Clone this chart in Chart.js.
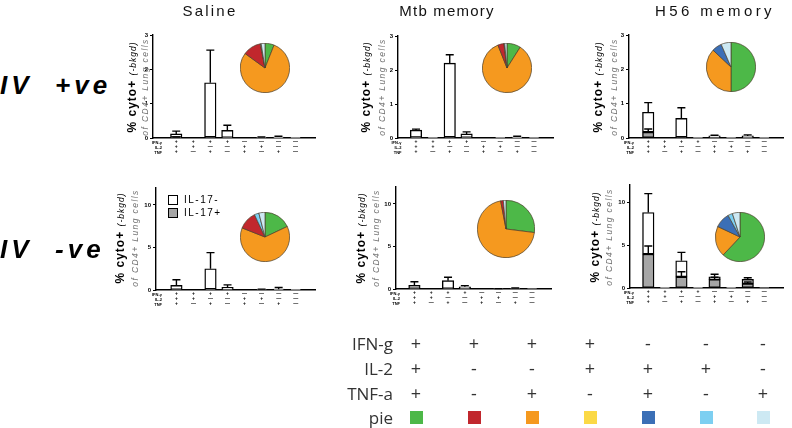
<!DOCTYPE html>
<html><head><meta charset="utf-8">
<script src="https://cdn.jsdelivr.net/npm/chart.js@4.4.0/dist/chart.umd.min.js"></script>
<style>
body{margin:0;width:792px;height:428px;position:relative;background:#fff;overflow:hidden;font-family:Arial,"Liberation Sans",sans-serif}
.abs{position:absolute;white-space:nowrap}
canvas{position:absolute}
.ct{font-size:15px;color:#111;transform:translateX(-50%)}
.rl{font-size:26px;font-weight:bold;font-style:italic;letter-spacing:4px;color:#000}
.yt{transform:translate(-50%,-50%) rotate(-90deg);line-height:1}
.tr{font-size:4px;font-weight:bold;color:#000;text-align:right;line-height:5px}
.tl{font-family:"Open Sans",Arial,sans-serif;font-size:17px;color:#333;text-align:right;transform:translateY(-50%)}
.tm{font-family:"Open Sans",Arial,sans-serif;font-size:18px;color:#333;transform:translate(-50%,-50%)}
.sq{width:13px;height:13px}
</style></head><body>
<script>
// ---------- DATA ----------
const categories = ['+++','++-','+-+','+--','-++','-+-','--+','---'];
const tickIFN = ['+','+','+','+','—','—','—','—'];
const tickIL2 = ['+','+','—','—','+','+','—','—'];
const tickTNF = ['+','—','+','—','+','—','+','—'];
const seriesNames = ['IL-17+','IL-17-'];
const columnTitles = ['Saline','Mtb memory','H56 memory'];
const rowTitles = ['IV&nbsp;&nbsp;+ve','IV&nbsp;&nbsp;-ve'];
const yTicksTop = [0,1,2,3];
const yTicksBottom = [0,5,10];

const salineIVposNeg    = [0.10, 0, 1.58, 0.21, 0, 0.01, 0.02, 0.01];
const salineIVposPos    = [0.02, 0, 0.03, 0.01, 0, 0.01, 0.01, 0];
const salineIVposNegSem = [0.08, 0, 0.95, 0.15, 0, 0.01, 0.02, 0];
const salineIVposPosSem = [0.01, 0, 0, 0, 0, 0, 0, 0];

const mtbIVposNeg    = [0.21, 0.01, 2.17, 0.11, 0, 0.01, 0.02, 0.01];
const mtbIVposPos    = [0.02, 0, 0.03, 0.01, 0, 0, 0.01, 0];
const mtbIVposNegSem = [0.03, 0, 0.25, 0.06, 0, 0, 0.02, 0];
const mtbIVposPosSem = [0, 0, 0, 0, 0, 0, 0, 0];

const h56IVposNeg    = [0.58, 0, 0.54, 0.01, 0.04, 0.01, 0.05, 0.01];
const h56IVposPos    = [0.17, 0, 0.03, 0, 0.02, 0, 0.01, 0];
const h56IVposNegSem = [0.28, 0, 0.31, 0, 0.02, 0, 0.03, 0];
const h56IVposPosSem = [0.09, 0, 0.01, 0, 0, 0, 0, 0];

const salineIVnegNeg    = [0.50, 0, 2.40, 0.27, 0, 0.04, 0.08, 0.02];
const salineIVnegPos    = [0.05, 0, 0.10, 0.03, 0, 0.01, 0.02, 0];
const salineIVnegNegSem = [0.65, 0, 1.90, 0.30, 0, 0.05, 0.20, 0];
const salineIVnegPosSem = [0, 0, 0, 0, 0, 0, 0, 0];

const mtbIVnegNeg    = [0.38, 0, 0.93, 0.24, 0, 0.02, 0.04, 0.01];
const mtbIVnegPos    = [0.05, 0, 0.05, 0.03, 0, 0.01, 0.01, 0];
const mtbIVnegNegSem = [0.42, 0, 0.40, 0.13, 0, 0.02, 0.06, 0];
const mtbIVnegPosSem = [0, 0, 0, 0, 0, 0, 0, 0];

const h56IVnegNeg    = [4.85, 0.02, 1.87, 0.02, 0.30, 0.02, 0.50, 0.01];
const h56IVnegPos    = [3.95, 0.03, 1.30, 0.03, 1.00, 0.03, 0.50, 0];
const h56IVnegNegSem = [2.20, 0, 0.98, 0, 0.30, 0, 0.20, 0];
const h56IVnegPosSem = [0.95, 0, 0.60, 0, 0.25, 0, 0.20, 0];

// pie slices in category order (+++, ++-, +-+, +--, -++, -+-, --+)
const pieCategories = ['+++','++-','+-+','+--','-++','-+-','--+'];
const pieSalineIVpos = [6, 0, 79, 12, 0, 0.5, 2.5];
const pieMtbIVpos    = [9, 0, 85, 4, 0, 0.5, 1.5];
const pieH56IVpos    = [50, 0, 37, 0, 6.5, 0, 6.5];
const pieSalineIVneg = [18, 0, 63, 12, 0, 3, 4];
const pieMtbIVneg    = [27, 0, 70, 1.5, 0, 0, 1.5];
const pieH56IVneg    = [62, 0, 20, 0, 10, 3, 5];

// bottom key table (columns in key order)
const keyIFN = ['+','+','+','+','-','-','-'];
const keyIL2 = ['+','-','-','+','+','+','-'];
const keyTNF = ['+','-','+','-','+','-','+'];
const keyCats = ['+++','+--','+-+','++-','-++','-+-','--+'];
const keyRowLabels = ['IFN-g','IL-2','TNF-a','pie'];

// ---------- STYLES ----------
const pieColorMap = {'+++':'#4db848','++-':'#fbd946','+-+':'#f5991f','+--':'#c1272d','-++':'#3b6fb6','-+-':'#7dcff1','--+':'#cde9f3'};
const barColors = {'IL-17+':'#a6a6a6','IL-17-':'#ffffff'};

// ---------- LAYOUT ----------
const panels = [
 {neg:salineIVposNeg,pos:salineIVposPos,negSem:salineIVposNegSem,posSem:salineIVposPosSem,yMax:3,yTicks:yTicksTop,pie:pieSalineIVpos,
  box:{axisX:153,x0:168,dx:19.5,yTop:35,yBot:138},pieBox:{cx:265,cy:68,r:24},tt:{x1:131,x2:143,cy:87}},
 {neg:mtbIVposNeg,pos:mtbIVposPos,negSem:mtbIVposNegSem,posSem:mtbIVposPosSem,yMax:3,yTicks:yTicksTop,pie:pieMtbIVpos,
  box:{axisX:398,x0:407.5,dx:19.25,yTop:36,yBot:138},pieBox:{cx:507,cy:68,r:24},tt:{x1:365,x2:380,cy:87}},
 {neg:h56IVposNeg,pos:h56IVposPos,negSem:h56IVposNegSem,posSem:h56IVposPosSem,yMax:3,yTicks:yTicksTop,pie:pieH56IVpos,
  box:{axisX:629,x0:640,dx:19,yTop:35,yBot:138},pieBox:{cx:731,cy:67,r:24},tt:{x1:597,x2:612,cy:87}},
 {neg:salineIVnegNeg,pos:salineIVnegPos,negSem:salineIVnegNegSem,posSem:salineIVnegPosSem,yMax:12,yTicks:yTicksBottom,pie:pieSalineIVneg,
  box:{axisX:156,x0:168,dx:19.5,yTop:188,yBot:290},pieBox:{cx:265,cy:237,r:24},tt:{x1:119,x2:133,cy:238}},
 {neg:mtbIVnegNeg,pos:mtbIVnegPos,negSem:mtbIVnegNegSem,posSem:mtbIVnegPosSem,yMax:12,yTicks:yTicksBottom,pie:pieMtbIVneg,
  box:{axisX:396,x0:406,dx:19.25,yTop:187,yBot:289},pieBox:{cx:506,cy:229,r:28},tt:{x1:360,x2:374,cy:238}},
 {neg:h56IVnegNeg,pos:h56IVnegPos,negSem:h56IVnegNegSem,posSem:h56IVnegPosSem,yMax:12,yTicks:yTicksBottom,pie:pieH56IVneg,
  box:{axisX:630,x0:640,dx:19,yTop:185,yBot:288},pieBox:{cx:740,cy:237,r:24},tt:{x1:594,x2:607,cy:237}}
];

function addDiv(cls, html, left, top, extra){
  const d = document.createElement('div');
  d.className = 'abs ' + cls;
  d.innerHTML = html;
  d.style.left = left + 'px'; d.style.top = top + 'px';
  if (extra) Object.assign(d.style, extra);
  document.body.appendChild(d);
  return d;
}

const errorBars = {
  id:'errorBars',
  afterDatasetsDraw(chart){
    const ctx = chart.ctx, ys = chart.scales.y;
    ctx.save(); ctx.strokeStyle = '#000'; ctx.lineWidth = 1.4;
    chart.data.datasets.forEach((ds, di) => {
      const meta = chart.getDatasetMeta(di);
      ds.sem.forEach((e, i) => {
        if (!e) return;
        let base = 0;
        for (let k = 0; k <= di; k++) base += chart.data.datasets[k].data[i].y;
        const el = meta.data[i];
        const yb = ys.getPixelForValue(base), yt = ys.getPixelForValue(base + e);
        ctx.beginPath();
        ctx.moveTo(el.x, yb); ctx.lineTo(el.x, yt);
        ctx.moveTo(el.x - 4, yt); ctx.lineTo(el.x + 4, yt);
        ctx.stroke();
      });
    });
    ctx.restore();
  }
};

function makeBar(p){
  const yW = 16, padT = 6, xH = 18, padR = 3;
  const b = p.box;
  const plotH = b.yBot - b.yTop;
  const xMin = -(b.x0 - b.axisX) / b.dx, xMax = 7.55;
  const plotW = (xMax - xMin) * b.dx;
  const c = document.createElement('canvas');
  c.width = Math.round(yW + plotW + padR); c.height = Math.round(padT + plotH + xH);
  c.style.left = (b.axisX - yW) + 'px'; c.style.top = (b.yTop - padT) + 'px';
  document.body.appendChild(c);
  const mk = (arr) => arr.map((v, i) => ({x:i, y:v}));
  new Chart(c, {
    type:'bar',
    data:{datasets:[
      {label:seriesNames[0], data:mk(p.pos), sem:p.posSem, backgroundColor:barColors['IL-17+'], borderColor:'#000', borderWidth:1.4, borderSkipped:false, barThickness:11.5},
      {label:seriesNames[1], data:mk(p.neg), sem:p.negSem, backgroundColor:barColors['IL-17-'], borderColor:'#000', borderWidth:1.4, borderSkipped:false, barThickness:11.5}
    ]},
    options:{
      responsive:false, animation:false, devicePixelRatio:1,
      layout:{padding:{top:padT, right:padR, left:0, bottom:0}},
      plugins:{legend:{display:false}, tooltip:{enabled:false}},
      scales:{
        x:{type:'linear', stacked:true, min:xMin, max:xMax,
           afterBuildTicks:(s)=>{ s.ticks = categories.map((_, i)=>({value:i})); },
           afterFit:(s)=>{ s.height = xH; },
           grid:{display:false, drawTicks:false},
           border:{display:true, color:'#000', width:1.4},
           ticks:{autoSkip:false, maxRotation:0, minRotation:0, padding:1, color:'#000',
                  font:{size:5, weight:'bold', lineHeight:1},
                  callback:(v)=>[tickIFN[v], tickIL2[v], tickTNF[v]]}},
        y:{type:'linear', stacked:true, min:0, max:p.yMax,
           afterBuildTicks:(s)=>{ s.ticks = p.yTicks.map(v=>({value:v})); },
           afterFit:(s)=>{ s.width = yW; },
           grid:{drawOnChartArea:false, drawTicks:true, tickLength:3, color:'#000', lineWidth:1},
           border:{display:true, color:'#000', width:1.4},
           ticks:{padding:2, color:'#000', font:{size:6, weight:'bold'}}}
      }
    },
    plugins:[errorBars]
  });
  ['IFN-γ','IL-2','TNF'].forEach((t, k) => {
    addDiv('tr', t, b.x0 - 20, b.yBot + 2 + k*5, {width:'14px'});
  });
}

function makePie(p){
  const q = p.pieBox;
  const s = 2*q.r + 2;
  const c = document.createElement('canvas');
  c.width = s; c.height = s;
  c.style.left = (q.cx - q.r - 1) + 'px'; c.style.top = (q.cy - q.r - 1) + 'px';
  document.body.appendChild(c);
  new Chart(c, {
    type:'pie',
    data:{labels:pieCategories, datasets:[{data:p.pie, backgroundColor:pieCategories.map(k=>pieColorMap[k]),
      borderColor:'#4a3f2c', borderWidth:0.7, hoverOffset:0, offset:0}]},
    options:{responsive:false, animation:false, devicePixelRatio:1, layout:{padding:0},
      plugins:{legend:{display:false}, tooltip:{enabled:false}}}
  });
}

panels.forEach(p => {
  makeBar(p);
  makePie(p);
  const t = p.tt;
  addDiv('yt', '<b style="font-size:12px;letter-spacing:1px">% cyto+</b> <i style="font-size:8.5px;letter-spacing:1px">(-bkgd)</i>', t.x1, t.cy);
  addDiv('yt', '<i style="font-size:8.5px;letter-spacing:1.4px;color:#707070">of CD4+ Lung cells</i>', t.x2, t.cy);
});

// column & row titles
addDiv('ct', columnTitles[0], 210, 2, {letterSpacing:'2.2px'});
addDiv('ct', columnTitles[1], 447, 2, {letterSpacing:'1.2px'});
addDiv('ct', columnTitles[2], 715, 2, {letterSpacing:'3.4px'});
addDiv('rl', rowTitles[0], 0, 70);
addDiv('rl', rowTitles[1], 0, 234);

// legend inside IV -ve saline panel
addDiv('', '', 168, 195, {width:'8px',height:'8px',border:'1.5px solid #000',background:barColors['IL-17-']});
addDiv('', '', 168, 208, {width:'8px',height:'8px',border:'1.5px solid #000',background:barColors['IL-17+']});
addDiv('', seriesNames[1], 184, 194, {fontSize:'10px',letterSpacing:'1.5px'});
addDiv('', seriesNames[0], 184, 207, {fontSize:'10px',letterSpacing:'1.5px'});

// bottom key table
const keyX = [416, 474, 532, 590, 648, 706, 763];
const rowY = [343, 368, 393, 417];
keyRowLabels.forEach((t, r) => addDiv('tl', t, 293, rowY[r], {width:'100px'}));
[keyIFN, keyIL2, keyTNF].forEach((row, r) => row.forEach((s, i) => addDiv('tm', s, keyX[i], rowY[r])));
keyCats.forEach((k, i) => addDiv('sq', '', keyX[i]-6.5, rowY[3]-6.5, {background:pieColorMap[k]}));
</script>
</body></html>
